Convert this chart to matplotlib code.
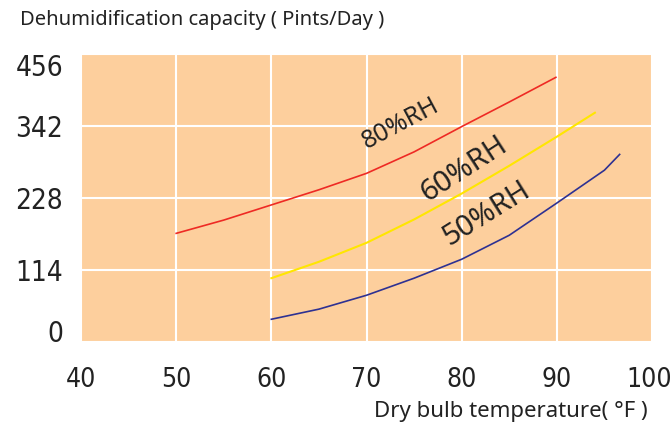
import matplotlib
matplotlib.use("Agg")
import matplotlib.pyplot as plt
from matplotlib.transforms import ScaledTranslation

x_ticks = [40, 50, 60, 70, 80, 90, 100]
y_ticks = [0, 114, 228, 342, 456]

rh80_x = [50, 55, 60, 65, 70, 75, 80, 85, 89.9]
rh80_y = [172, 193, 217, 241, 267, 301, 341, 380, 419]

rh60_x = [60, 65, 70, 75, 80, 85, 90, 94.0]
rh60_y = [101, 127, 157, 194, 235, 279, 325, 363]

rh50_x = [60, 65, 70, 75, 80, 85, 90, 95, 96.6]
rh50_y = [36, 52, 74, 101, 131, 169, 220, 272, 297]

fig = plt.figure(figsize=(6.71, 4.25), dpi=100)
ax = fig.add_axes([0.1207, 0.1953, 0.851, 0.6777])
ax.set_facecolor('#FDCF9D')
ax.set_xlim(40, 100)
ax.set_ylim(0, 456)
ax.set_xticks(x_ticks)
ax.set_yticks(y_ticks)
ax.grid(True, color='white', linewidth=1.5)
ax.set_axisbelow(True)
for s in ax.spines.values():
    s.set_visible(False)
ax.tick_params(length=0)
ax.tick_params(axis='x', pad=18, labelsize=19, colors='#222222')
ax.tick_params(axis='y', pad=13, labelsize=20, colors='#222222')
for lab in ax.get_xticklabels() + ax.get_yticklabels():
    lab.set_family('DejaVu Sans')
    lab.set_stretch('condensed')
ylabs = ax.get_yticklabels()
ylabs[0].set_va('baseline')
ylabs[-1].set_va('top')
xlabs = ax.get_xticklabels()
xlabs[-1].set_transform(xlabs[-1].get_transform() +
                        ScaledTranslation(-3 / 100, 0, fig.dpi_scale_trans))

ax.plot(rh80_x, rh80_y, color='#EE2A24', lw=1.2)
ax.plot(rh60_x, rh60_y, color='#FFE600', lw=1.5)
ax.plot(rh50_x, rh50_y, color='#2E3192', lw=1.2)

ax.text(73.6, 345, '80%RH', rotation=28, fontsize=18, ha='center', va='center',
        color='#222222', family='Noto Sans')
ax.text(80.2, 274, '60%RH', rotation=33, fontsize=21, ha='center', va='center',
        color='#222222', family='Noto Sans')
ax.text(82.6, 203, '50%RH', rotation=32, fontsize=21, ha='center', va='center',
        color='#222222', family='Noto Sans')

fig.text(20/671, 1 - 20/425, 'Dehumidification capacity ( Pints/Day )', fontsize=14.5,
         ha='left', va='center', color='#222222', family='Noto Sans')
fig.text(648/671, 1 - 411/425, 'Dry bulb temperature( °F )', fontsize=16,
         ha='right', va='center', color='#222222', family='Noto Sans')

fig.savefig('out.png', dpi=100)
